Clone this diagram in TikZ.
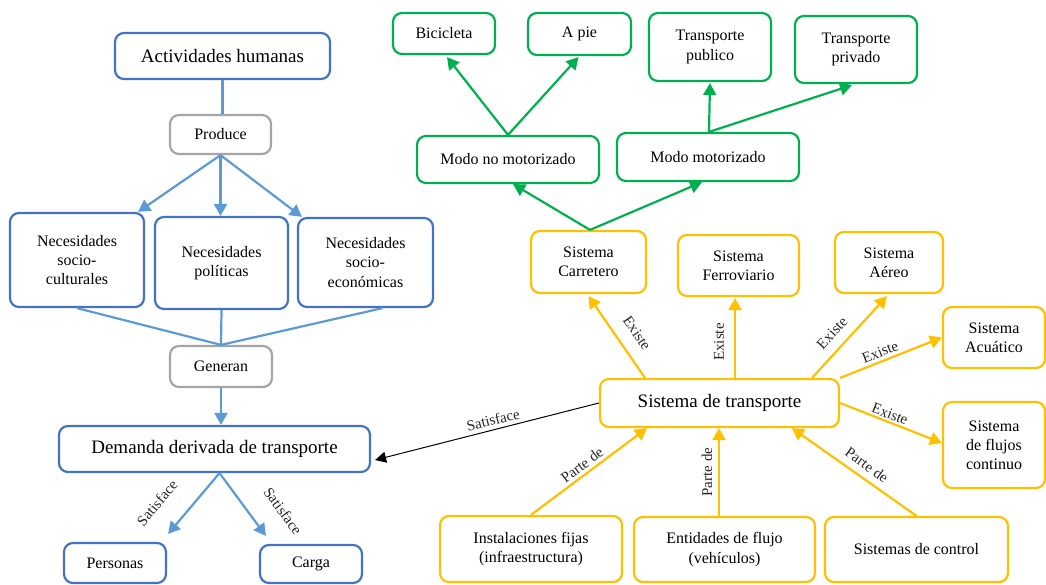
\documentclass[tikz,border=0pt]{standalone}
\usepackage{fontspec}
\setmainfont{Liberation Serif}
\usetikzlibrary{arrows.meta}
\definecolor{bbox}{HTML}{4472C4}
\definecolor{bline}{HTML}{5B9BD5}
\definecolor{gbox}{HTML}{A5A5A5}
\definecolor{grn}{HTML}{00B050}
\definecolor{ylw}{HTML}{FFC000}
\begin{document}
\begin{tikzpicture}[x=1pt,y=-1pt,
  box/.style={rectangle, rounded corners=9pt, line width=2.2pt, inner sep=0pt, align=center, fill=white, font=\fontsize{16}{19.2}\selectfont},
  bigtext/.style={font=\fontsize{19}{22}\selectfont},
  bluebox/.style={box, draw=bbox},
  graybox/.style={box, draw=gbox},
  greenbox/.style={box, draw=grn},
  yellowbox/.style={box, draw=ylw},
  sz/.style 2 args={minimum width=#1pt, minimum height=#2pt},
  conn/.style={line width=2.2pt, -{Triangle[width=13pt,length=12pt]}},
  bconn/.style={conn, draw=bline, fill=bline},
  bplain/.style={line width=2.2pt, draw=bline},
  gconn/.style={conn, draw=grn, fill=grn},
  yconn/.style={conn, draw=ylw, fill=ylw},
  kconn/.style={line width=1pt, draw=black, -{Triangle[width=11pt,length=11pt]}},
  lbl/.style={font=\fontsize{15}{18}\selectfont, inner sep=0pt, text=black!85}
]
\useasboundingbox (0,0) rectangle (1046,584);

% ---- left (blue) part ----
\node[bluebox, bigtext, sz={215}{46}] (act) at (222.5,56) {Actividades humanas};
\node[graybox, sz={101}{39}] (prod) at (220.5,134.5) {Produce};
\node[bluebox, sz={134}{94}] (nsc) at (77,260) {Necesidades\\socio-\\culturales};
\node[bluebox, sz={133}{92}] (npol) at (221.5,263) {Necesidades\\políticas};
\node[bluebox, sz={135}{89}] (neco) at (365.5,262.5) {Necesidades\\socio-\\económicas};
\node[graybox, sz={102}{41}] (gen) at (221,366.5) {Generan};
\node[bluebox, bigtext, sz={311}{46}] (dem) at (214.5,449) {Demanda derivada de transporte};
\node[bluebox, sz={102}{40}] (pers) at (115,563) {Personas};
\node[bluebox, sz={102}{38}] (carga) at (311,564) {Carga};

\draw[bplain] (act.south) -- (act.south |- prod.north);
\draw[bconn] (prod.south) -- ([xshift=-7pt]nsc.north east);
\draw[bconn] (prod.south) -- (prod.south |- npol.north);
\draw[bconn] (prod.south) -- ([xshift=5pt]neco.north west);
\draw[bplain] (nsc.south) -- (gen.north);
\draw[bplain] (npol.south) -- (gen.north);
\draw[bplain] ([xshift=17pt]neco.south) -- (gen.north);
\draw[bconn] (gen.south) -- (gen.south |- dem.north);
\draw[bconn] ([xshift=5pt]dem.south) -- ([xshift=1pt,yshift=8pt]pers.north east);
\draw[bconn] ([xshift=5pt]dem.south) -- ([xshift=7pt,yshift=8pt]carga.north west);
\node[lbl, rotate=50] (l1) at (157,503) {Satisface};
\node[lbl, rotate=-54] (l2) at (283,511) {Satisface};

% ---- green part ----
\node[greenbox, sz={102}{41}] (bici) at (444,33.5) {Bicicleta};
\node[greenbox, sz={103}{42}] (apie) at (579.5,34) {A pie};
\node[greenbox, sz={122}{68}] (tpub) at (710,47) {Transporte\\publico};
\node[greenbox, sz={122}{67}] (tpriv) at (856,49.5) {Transporte\\privado};
\node[greenbox, sz={182}{47}] (mnm) at (508,159.5) {Modo no motorizado};
\node[greenbox, sz={182}{48}] (mm) at (708,157) {Modo motorizado};

% ---- yellow part ----
\node[yellowbox, sz={115}{62}] (carr) at (588.5,262) {Sistema\\Carretero};
\node[yellowbox, sz={121}{61}] (ferr) at (738.5,265.5) {Sistema\\Ferroviario};
\node[yellowbox, sz={108}{61}] (aereo) at (889,262.5) {Sistema\\Aéreo};
\node[yellowbox, sz={102}{61}] (acu) at (994,337.5) {Sistema\\Acuático};
\node[yellowbox, sz={102}{86}] (flu) at (994,445) {Sistema\\de flujos\\continuo};
\node[yellowbox, bigtext, sz={239}{48}] (st) at (719.5,403) {Sistema de transporte};
\node[yellowbox, sz={182}{66}] (inst) at (531,549) {Instalaciones fijas\\(infraestructura)};
\node[yellowbox, sz={181}{65}] (ent) at (724.5,549.5) {Entidades de flujo\\(vehículos)};
\node[yellowbox, sz={183}{65}] (ctrl) at (916.5,549.5) {Sistemas de control};

\draw[gconn] (mnm.north) -- ([xshift=3pt,yshift=-2pt]bici.south);
\draw[gconn] (mnm.north) -- ([xshift=-1pt,yshift=-1pt]apie.south);
\draw[gconn] ([xshift=1pt]mm.north) -- ([yshift=-1pt]tpub.south);
\draw[gconn] ([xshift=1pt]mm.north) -- ([xshift=-4pt,yshift=-1pt]tpriv.south);
\draw[gconn] ([xshift=1.5pt]carr.north) -- ([xshift=5pt]mnm.south);
\draw[gconn] ([xshift=1.5pt]carr.north) -- ([xshift=-6pt]mm.south);

\draw[yconn] ([xshift=-74.5pt]st.north) -- ([yshift=-2pt]carr.south);
\draw[yconn] ([xshift=15.5pt]st.north) -- ([xshift=15.5pt,yshift=-1pt]st.north |- ferr.south);
\draw[yconn] ([xshift=92.5pt]st.north) -- ([xshift=-2pt,yshift=-2pt]aereo.south);
\draw[yconn] (st.north east) -- (acu.west);
\draw[yconn] (st.east) -- ([yshift=2pt]flu.west);
\draw[kconn] (st.west) -- ([xshift=4pt,yshift=-11pt]dem.east);
\draw[yconn] (inst.north) -- ([xshift=-72.5pt]st.south);
\draw[yconn] ([xshift=-5.5pt]ent.north) -- ([xshift=-5.5pt]ent.north |- st.south);
\draw[yconn] (ctrl.north) -- ([xshift=72.5pt]st.south);

\node[lbl, rotate=-55.5] (e1) at (637,333) {Existe};
\node[lbl, rotate=90] (e2) at (719,342) {Existe};
\node[lbl, rotate=47.5] (e3) at (832,333) {Existe};
\node[lbl, rotate=21] (e4) at (880,352) {Existe};
\node[lbl, rotate=-21.4] (e5) at (890,414) {Existe};
\node[lbl, rotate=14] (s3) at (493,420) {Satisface};
\node[lbl, rotate=37] (p1) at (582,465) {Parte de};
\node[lbl, rotate=90] (p2) at (707,472) {Parte de};
\node[lbl, rotate=-35.6] (p3) at (867,465) {Parte de};
\end{tikzpicture}
\end{document}
